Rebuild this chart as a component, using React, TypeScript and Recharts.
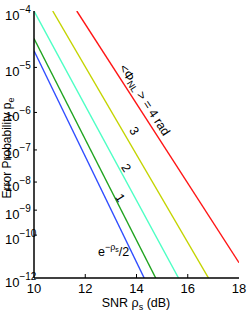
import { Line, LineChart, XAxis, YAxis } from "recharts";

// SNR (dB) at the two ends of each curve, and the error probability there
const curveKeys = ["gauss", "phi1", "phi2", "phi3", "phi4"];
const curveColors = ["#2f4cff", "#1fa31f", "#4dffc4", "#c4d400", "#ff1414"];
const snrDb = [
  [10, 14.3],
  [10, 14.75],
  [10, 15.64],
  [10.73, 16.81],
  [11.67, 18],
];
const errProb = [
  [2.1e-5, 1e-12],
  [3.5e-5, 1e-12],
  [1e-4, 1e-12],
  [1e-4, 1e-12],
  [1e-4, 5.7e-12],
];
const xTicks = [10, 12, 14, 16, 18];
const yTickExps = [4, 5, 6, 7, 8, 9, 10, 11, 12];

// the y axis is a double-log scale: log10(-log10(p) - c)
const C = 0.5;
const toY = (p: number) => Math.log10(-Math.log10(p) - C);
const fromY = (v: number) => Math.round(Math.pow(10, v) + C);
const yDomain = [toY(1e-4), toY(1e-12)];
const yTicks = yTickExps.map((k) => toY(Math.pow(10, -k)));

const series = curveKeys.map((key, i) => ({
  key,
  color: curveColors[i],
  data: snrDb[i].map((x, j) => ({ x, y: toY(errProb[i][j]) })),
}));

const FONT = "'Liberation Sans', Arial, sans-serif";

function BottomTick(props: any) {
  const { x, y, payload } = props;
  const inner = payload.value > 10 && payload.value < 18;
  return (
    <g>
      {inner && <line x1={x} x2={x} y1={y} y2={y - 4} stroke="#000" />}
      <text x={x} y={y + 15} textAnchor="middle" fontSize={13} fontFamily={FONT} fill="#000">
        {payload.value}
      </text>
    </g>
  );
}

function TopTick(props: any) {
  const { x, y } = props;
  return <line x1={x} x2={x} y1={y} y2={y + 4} stroke="#000" />;
}

function LeftTick(props: any) {
  const { x, y, payload } = props;
  const k = fromY(payload.value);
  return (
    <g>
      {k > 4 && k < 12 && <line x1={x} x2={x + 3} y1={y} y2={y} stroke="#000" />}
      <text x={5} y={y + 8.5} fontSize={13} fontFamily={FONT} fill="#000">
        10
        <tspan dy={-7} fontSize={10}>
          −{k}
        </tspan>
      </text>
    </g>
  );
}

function RightTick(props: any) {
  const { x, y, payload } = props;
  const k = fromY(payload.value);
  if (k <= 4 || k >= 12) return <g />;
  return <line x1={x} x2={x - 3} y1={y} y2={y} stroke="#000" />;
}

export default function App() {
  return (
    <div style={{ position: "absolute", left: 0, top: 0, width: 249, height: 316, background: "#fff" }}>
      <LineChart width={249} height={316} margin={{ top: 11, right: 10, bottom: 0, left: 0 }}>
        <XAxis
          xAxisId={0}
          dataKey="x"
          type="number"
          domain={[10, 18]}
          ticks={xTicks}
          height={38}
          tickSize={0}
          tickMargin={0}
          tickLine={false}
          axisLine={{ stroke: "#000", strokeWidth: 1.5 }}
          tick={<BottomTick />}
          allowDataOverflow
        />
        <XAxis
          xAxisId="top"
          orientation="top"
          type="number"
          domain={[10, 18]}
          ticks={[12, 14, 16]}
          height={0}
          tickSize={0}
          tickMargin={0}
          tickLine={false}
          axisLine={{ stroke: "#808080", strokeWidth: 1.5 }}
          tick={<TopTick />}
          allowDataOverflow
        />
        <YAxis
          yAxisId={0}
          type="number"
          domain={yDomain}
          ticks={yTicks}
          reversed
          width={34}
          tickSize={0}
          tickMargin={0}
          tickLine={false}
          axisLine={{ stroke: "#000", strokeWidth: 1.5 }}
          tick={<LeftTick />}
          allowDataOverflow
        />
        <YAxis
          yAxisId="right"
          orientation="right"
          type="number"
          domain={yDomain}
          ticks={yTicks}
          reversed
          width={0}
          tickSize={0}
          tickMargin={0}
          tickLine={false}
          axisLine={{ stroke: "#707070", strokeWidth: 1.5 }}
          tick={<RightTick />}
          allowDataOverflow
        />
        {series.map((s) => (
          <Line
            key={s.key}
            xAxisId={0}
            yAxisId={0}
            data={s.data}
            dataKey="y"
            type="linear"
            stroke={s.color}
            strokeWidth={1.4}
            dot={false}
            activeDot={false}
            isAnimationActive={false}
          />
        ))}
      </LineChart>
      <svg
        width={249}
        height={316}
        style={{ position: "absolute", left: 0, top: 0, pointerEvents: "none" }}
        fontFamily={FONT}
      >
        <text
          transform="translate(10.5,148) rotate(-90)"
          textAnchor="middle"
          fontSize={12}
          fill="#000"
        >
          Error Probability p<tspan dy={3} fontSize={9}>e</tspan>
        </text>
        <text x={136} y={307} textAnchor="middle" fontSize={12.5} fill="#000">
          SNR ρ<tspan dy={3} fontSize={9}>s</tspan>
          <tspan dy={-3}> (dB)</tspan>
        </text>
        <text
          transform="translate(144.5,100) rotate(57)"
          textAnchor="middle"
          dominantBaseline="central"
          fontSize={12.5}
          fill="#000"
        >
          {"<Φ"}
          <tspan dy={3} fontSize={9}>NL</tspan>
          <tspan dy={-3}>{" > = 4 rad"}</tspan>
        </text>
        <text transform="translate(134,131) rotate(57)" textAnchor="middle" dominantBaseline="central" fontSize={12.5} fill="#000">
          3
        </text>
        <text transform="translate(126,168) rotate(57)" textAnchor="middle" dominantBaseline="central" fontSize={12.5} fill="#000">
          2
        </text>
        <text transform="translate(120,198) rotate(57)" textAnchor="middle" dominantBaseline="central" fontSize={12.5} fill="#000">
          1
        </text>
        <text x={98} y={256} fontSize={12.5} fill="#000">
          e<tspan dy={-6} fontSize={9}>−ρ</tspan>
          <tspan dy={2} fontSize={7}>s</tspan>
          <tspan dy={4} fontSize={12.5}>/2</tspan>
        </text>
      </svg>
    </div>
  );
}
